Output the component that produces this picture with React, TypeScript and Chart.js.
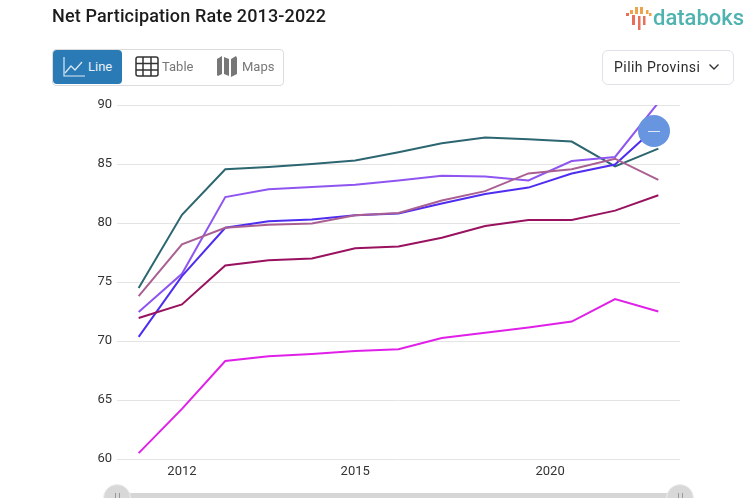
import React, { useEffect, useRef } from "react";
import { Chart, registerables } from "chart.js";

Chart.register(...registerables);

const positions = [0, 1, 2, 3, 4, 5, 6, 7, 8, 9, 10, 11, 12];
const tickPositions = [1, 5, 9.5];
const tickLabels = ["2012", "2015", "2020"];
const teal = [74.5, 80.7, 84.55, 84.75, 85, 85.3, 86, 86.75, 87.25, 87.1, 86.9, 84.8, 86.3];
const violet = [72.45, 75.7, 82.2, 82.85, 83.05, 83.25, 83.6, 84, 83.95, 83.6, 85.25, 85.6, 90.2];
const mauve = [73.8, 78.2, 79.6, 79.85, 79.95, 80.65, 80.85, 81.9, 82.7, 84.2, 84.55, 85.45, 83.65];
const blue = [70.35, 75.5, 79.6, 80.15, 80.3, 80.65, 80.8, 81.65, 82.45, 83, 84.2, 84.95, 88.3];
const crimson = [71.95, 73.1, 76.4, 76.85, 77, 77.85, 78, 78.75, 79.75, 80.25, 80.25, 81.05, 82.35];
const magenta = [60.5, 64.25, 68.3, 68.7, 68.9, 69.15, 69.3, 70.25, 70.7, 71.15, 71.65, 73.55, 72.5];

const FONT = "Roboto, sans-serif";
const toPoints = (v: number[]) => v.map((y, i) => ({ x: positions[i], y }));

const abs = (left: number, top: number, width: number, height: number, extra: React.CSSProperties = {}): React.CSSProperties => ({
  position: "absolute", left, top, width, height, boxSizing: "border-box", ...extra,
});

function Handle({ x }: { x: number }) {
  return (
    <div style={abs(x - 14, 484, 28, 28, { borderRadius: 14, background: "#d8d8d8", border: "1px solid #eee" })}>
      <div style={abs(11, 8, 1, 6, { background: "#999" })} />
      <div style={abs(15, 8, 1, 6, { background: "#999" })} />
    </div>
  );
}

export default function App() {
  const ref = useRef<HTMLCanvasElement>(null);
  useEffect(() => {
    document.body.style.margin = "0";
    const mk = (label: string, data: number[], color: string) => ({
      label, data: toPoints(data), borderColor: color, backgroundColor: color,
      borderWidth: 2, pointRadius: 0, tension: 0,
    });
    const chart = new Chart(ref.current!, {
      type: "line",
      data: {
        datasets: [
          mk("Magenta", magenta, "#e020e8"),
          mk("Crimson", crimson, "#99125f"),
          mk("Mauve", mauve, "#aa5f92"),
          mk("Blue", blue, "#4f2df0"),
          mk("Violet", violet, "#8f55f0"),
          mk("Teal", teal, "#2c6670"),
        ],
      },
      options: {
        animation: false,
        responsive: false,
        devicePixelRatio: 1,
        layout: { padding: { left: 0, right: 73, top: 105, bottom: 0 } },
        plugins: { legend: { display: false }, tooltip: { enabled: false } },
        scales: {
          x: {
            type: "linear",
            min: -0.5,
            max: 12.5,
            grid: { display: false },
            border: { display: false },
            afterBuildTicks: (axis: any) => { axis.ticks = tickPositions.map((value) => ({ value })); },
            afterFit: (axis: any) => { axis.height = 39; },
            ticks: {
              autoSkip: false,
              maxRotation: 0,
              padding: -3,
              color: "#333",
              font: { family: FONT, size: 13 },
              callback: (v: any) => tickLabels[tickPositions.indexOf(Number(v))] ?? "",
            },
          },
          y: {
            min: 60,
            max: 90,
            grid: { color: "#e4e4e4", lineWidth: 1, drawTicks: false },
            border: { display: false },
            afterFit: (axis: any) => { axis.width = 117; },
            ticks: { stepSize: 5, padding: 5, color: "#333", font: { family: FONT, size: 13 } },
          },
        },
      },
    });
    return () => chart.destroy();
  }, []);

  return (
    <div style={{ position: "fixed", left: 0, top: 0, width: 753, height: 498, overflow: "hidden", background: "#fff", fontFamily: FONT }}>
      <canvas ref={ref} width={753} height={498} style={{ position: "absolute", left: 0, top: 0, width: 753, height: 498 }} />

      <div style={{ position: "absolute", left: 52, top: 5, fontSize: 18, fontWeight: 500, letterSpacing: 0.14, color: "#1c1c1c", whiteSpace: "nowrap" }}>
        Net Participation Rate 2013-2022
      </div>

      <svg style={abs(626, 6, 26, 26)} viewBox="0 0 26 26">
        <rect x="0" y="7" width="3" height="3" fill="#e8705a" />
        <rect x="6" y="9" width="3" height="10" fill="#e8705a" />
        <rect x="4" y="4" width="3" height="4" fill="#eda24c" />
        <rect x="9" y="1" width="3" height="7" fill="#eda24c" />
        <rect x="12" y="10" width="2.5" height="14" fill="#e8705a" />
        <rect x="14" y="1" width="3" height="7" fill="#eda24c" />
        <rect x="17" y="10" width="2.5" height="9" fill="#e8705a" />
        <rect x="20" y="4" width="2.5" height="4" fill="#eda24c" />
        <rect x="23" y="7" width="2.5" height="3" fill="#eda24c" />
      </svg>
      <div style={{ position: "absolute", left: 653, top: 5, fontSize: 22, fontWeight: 500, color: "#4fb3b0", whiteSpace: "nowrap" }}>databoks</div>

      <div style={abs(52, 49, 232, 37, { border: "1px solid #dcdcdc", borderRadius: 4 })} />
      <div style={abs(53, 50, 69, 34, { background: "#2a7ab5", borderRadius: 4 })} />
      <svg style={abs(62, 55, 24, 24)} viewBox="0 0 24 24" fill="none" stroke="#dbe9f4" strokeWidth="1.2">
        <path d="M2 2V21H23" />
        <path d="M3 18L9 11L13 15L20 7" />
      </svg>
      <div style={{ position: "absolute", left: 88, top: 59, fontSize: 13, color: "#e6f0f8" }}>Line</div>
      <svg style={abs(135, 56, 24, 22)} viewBox="0 0 24 22" fill="none" stroke="#333" strokeWidth="1.5">
        <rect x="1" y="1" width="22" height="19" rx="2" />
        <path d="M1 7.5H23M1 14H23M8 1V20M16 1V20" />
      </svg>
      <div style={{ position: "absolute", left: 162, top: 59, fontSize: 13, color: "#777" }}>Table</div>
      <svg style={abs(217, 56, 20, 21)} viewBox="0 0 20 21" fill="#777">
        <path d="M0 3L5 0V18L1 20L0 19Z" />
        <path d="M7 1L12 3V20L7 18Z" />
        <path d="M14 3L19 0L20 2V18L14 21Z" />
      </svg>
      <div style={{ position: "absolute", left: 242, top: 59, fontSize: 13, color: "#777" }}>Maps</div>

      <div style={abs(602, 50, 132, 35, { border: "1px solid #e0e0e8", borderRadius: 6 })} />
      <div style={{ position: "absolute", left: 614, top: 59, fontSize: 14, letterSpacing: 0.45, color: "#2b2b2b", whiteSpace: "nowrap" }}>Pilih Provinsi</div>
      <svg style={abs(708, 63, 12, 8)} viewBox="0 0 12 8" fill="none" stroke="#333" strokeWidth="1.4">
        <path d="M1.5 1.5L6 6L10.5 1.5" />
      </svg>

      <div style={abs(638, 115, 32, 32, { borderRadius: 16, background: "#6795e0" })}>
        <div style={abs(10, 15.5, 12, 1, { background: "#dfe8f8" })} />
      </div>

      <div style={abs(117, 493, 563, 5, { background: "#d6d6d6" })} />
      <Handle x={117} />
      <Handle x={680} />
    </div>
  );
}
